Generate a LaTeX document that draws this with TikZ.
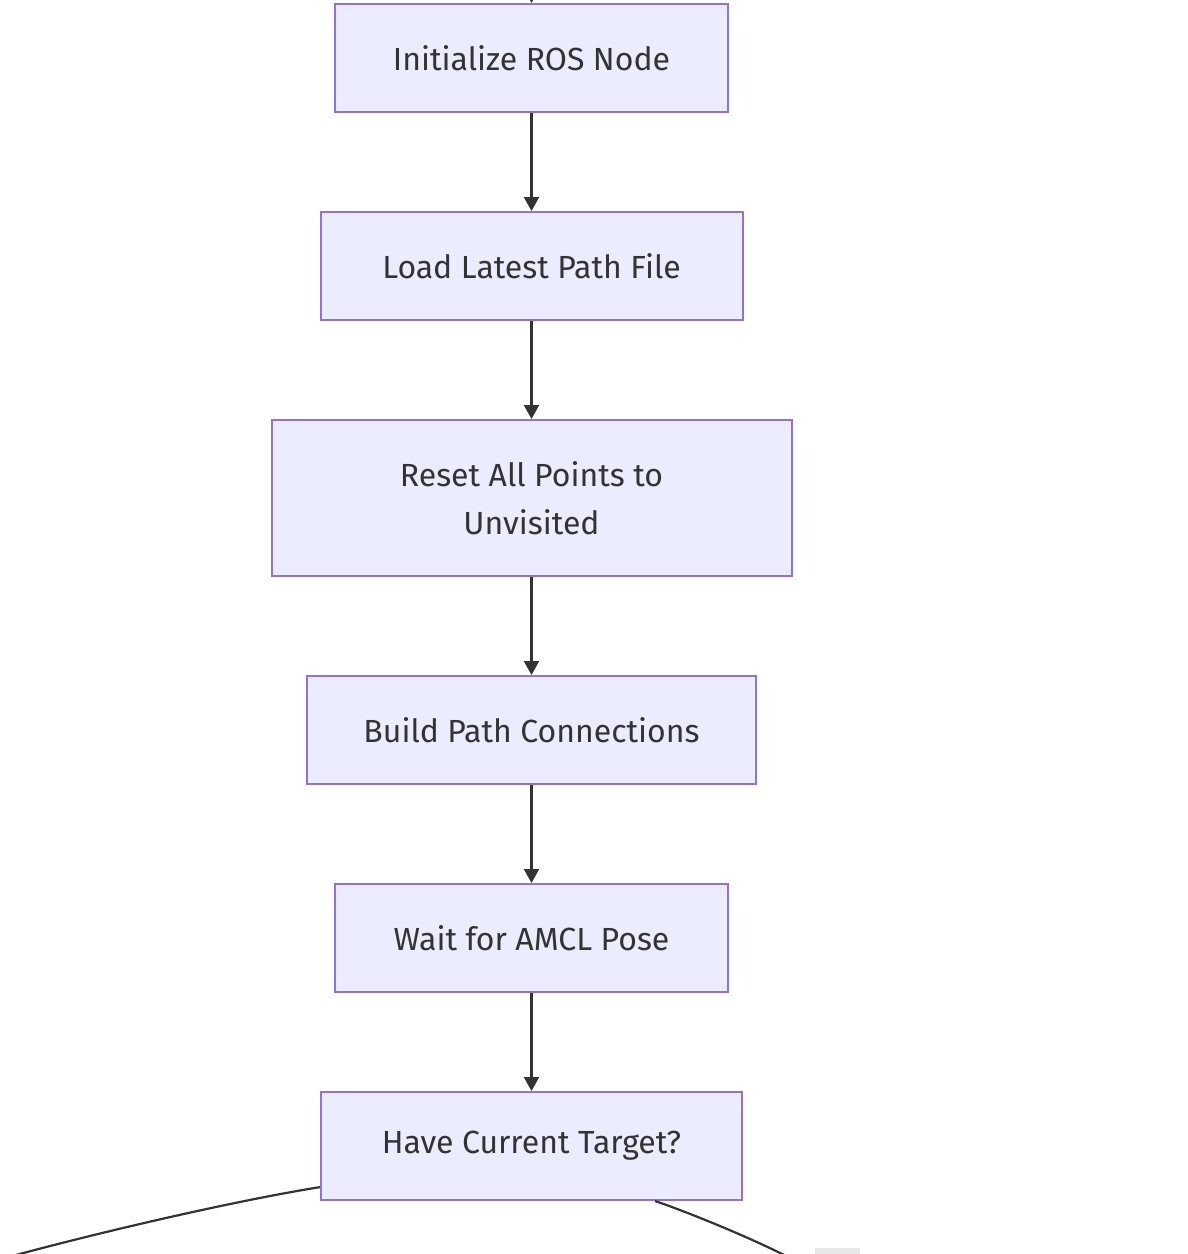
\documentclass[tikz,border=0pt]{standalone}
\usepackage{fontspec}
\setmainfont{Fira Sans}
\usetikzlibrary{positioning,arrows.meta}
\definecolor{boxfill}{HTML}{ECECFF}
\definecolor{boxline}{HTML}{9370DB}
\definecolor{ink}{HTML}{333333}
\definecolor{lblfill}{HTML}{E8E8E8}

\begin{document}
\begin{tikzpicture}[
  font=\fontsize{16}{24}\selectfont,
  node distance=49pt,
  stepbox/.style={draw=boxline,fill=boxfill,text=ink,line width=1pt,align=center,
                  minimum height=54pt,inner sep=0pt},
  flow/.style={-{Triangle[length=7pt,width=7.5pt]},line width=1.1pt,draw=ink},
  branch/.style={line width=1.1pt,draw=ink}
]
\useasboundingbox (0,0) rectangle (594pt,-627pt);

\node[stepbox,minimum width=196.5pt] (init) at (265.75pt,-29pt) {Initialize ROS Node};
\node[stepbox,minimum width=211pt,below=of init] (load) {Load Latest Path File};
\node[stepbox,minimum width=260pt,minimum height=78pt,below=of load] (reset) {Reset All Points to\\Unvisited};
\node[stepbox,minimum width=224.5pt,below=of reset] (build) {Build Path Connections};
\node[stepbox,minimum width=196.5pt,below=of build] (wait) {Wait for AMCL Pose};
\node[stepbox,minimum width=210.5pt,below=of wait] (have) {Have Current Target?};

\coordinate[above=20pt of init] (entry);
\coordinate (leftend) at (-15pt,-634pt);
\coordinate (rightend) at (405pt,-635pt);
\node[fill=lblfill,minimum width=22.5pt,minimum height=20pt,inner sep=0pt,anchor=north] (answer) at (418.75pt,-624pt) {};

\draw[flow] (entry) -- (init);
\draw[flow] (init) -- (load);
\draw[flow] (load) -- (reset);
\draw[flow] (reset) -- (build);
\draw[flow] (build) -- (wait);
\draw[flow] (wait) -- (have);
\draw[branch] (have.191.5) .. controls +(-50pt,-8pt) and +(40pt,12pt) .. (leftend);
\draw[branch] (have.-24) .. controls +(18pt,-6pt) and +(-12pt,9pt) .. (rightend);
\end{tikzpicture}
\end{document}
